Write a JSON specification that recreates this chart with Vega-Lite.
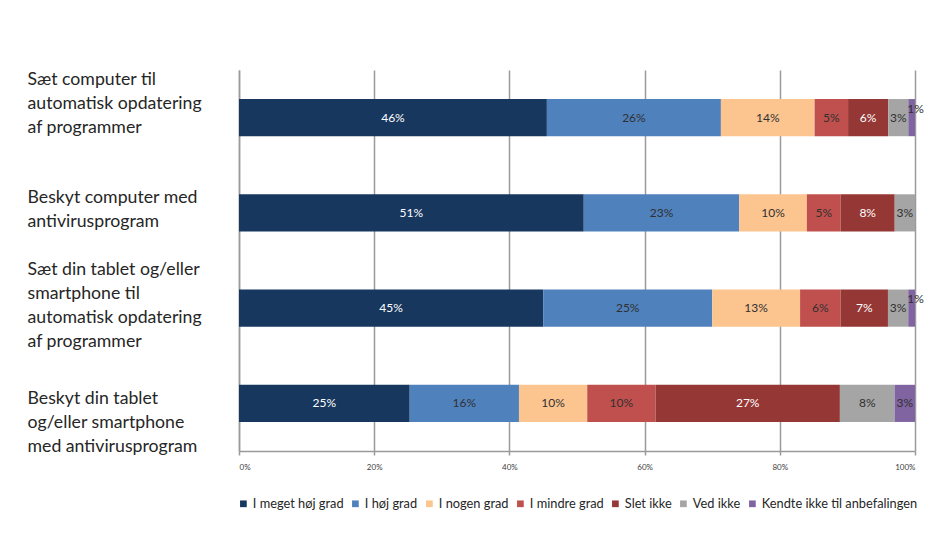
{
  "$schema": "https://vega.github.io/schema/vega-lite/v6.json",
  "autosize": "none",
  "width": 676,
  "height": 381,
  "padding": {"left": 239, "top": 70, "right": 19, "bottom": 99},
  "background": "white",
  "data": {
    "values": [
      {"item": "Sæt computer til|automatisk opdatering|af programmer", "svar": "I meget høj grad", "k": 1, "andel": 0.46},
      {"item": "Sæt computer til|automatisk opdatering|af programmer", "svar": "I høj grad", "k": 2, "andel": 0.26},
      {"item": "Sæt computer til|automatisk opdatering|af programmer", "svar": "I nogen grad", "k": 3, "andel": 0.14},
      {"item": "Sæt computer til|automatisk opdatering|af programmer", "svar": "I mindre grad", "k": 4, "andel": 0.05},
      {"item": "Sæt computer til|automatisk opdatering|af programmer", "svar": "Slet ikke", "k": 5, "andel": 0.06},
      {"item": "Sæt computer til|automatisk opdatering|af programmer", "svar": "Ved ikke", "k": 6, "andel": 0.03},
      {"item": "Sæt computer til|automatisk opdatering|af programmer", "svar": "Kendte ikke til anbefalingen", "k": 7, "andel": 0.01},
      {"item": "Beskyt computer med|antivirusprogram", "svar": "I meget høj grad", "k": 1, "andel": 0.51},
      {"item": "Beskyt computer med|antivirusprogram", "svar": "I høj grad", "k": 2, "andel": 0.23},
      {"item": "Beskyt computer med|antivirusprogram", "svar": "I nogen grad", "k": 3, "andel": 0.10},
      {"item": "Beskyt computer med|antivirusprogram", "svar": "I mindre grad", "k": 4, "andel": 0.05},
      {"item": "Beskyt computer med|antivirusprogram", "svar": "Slet ikke", "k": 5, "andel": 0.08},
      {"item": "Beskyt computer med|antivirusprogram", "svar": "Ved ikke", "k": 6, "andel": 0.03},
      {"item": "Sæt din tablet og/eller|smartphone til|automatisk opdatering|af programmer", "svar": "I meget høj grad", "k": 1, "andel": 0.45},
      {"item": "Sæt din tablet og/eller|smartphone til|automatisk opdatering|af programmer", "svar": "I høj grad", "k": 2, "andel": 0.25},
      {"item": "Sæt din tablet og/eller|smartphone til|automatisk opdatering|af programmer", "svar": "I nogen grad", "k": 3, "andel": 0.13},
      {"item": "Sæt din tablet og/eller|smartphone til|automatisk opdatering|af programmer", "svar": "I mindre grad", "k": 4, "andel": 0.06},
      {"item": "Sæt din tablet og/eller|smartphone til|automatisk opdatering|af programmer", "svar": "Slet ikke", "k": 5, "andel": 0.07},
      {"item": "Sæt din tablet og/eller|smartphone til|automatisk opdatering|af programmer", "svar": "Ved ikke", "k": 6, "andel": 0.03},
      {"item": "Sæt din tablet og/eller|smartphone til|automatisk opdatering|af programmer", "svar": "Kendte ikke til anbefalingen", "k": 7, "andel": 0.01},
      {"item": "Beskyt din tablet|og/eller smartphone|med antivirusprogram", "svar": "I meget høj grad", "k": 1, "andel": 0.25},
      {"item": "Beskyt din tablet|og/eller smartphone|med antivirusprogram", "svar": "I høj grad", "k": 2, "andel": 0.16},
      {"item": "Beskyt din tablet|og/eller smartphone|med antivirusprogram", "svar": "I nogen grad", "k": 3, "andel": 0.10},
      {"item": "Beskyt din tablet|og/eller smartphone|med antivirusprogram", "svar": "I mindre grad", "k": 4, "andel": 0.10},
      {"item": "Beskyt din tablet|og/eller smartphone|med antivirusprogram", "svar": "Slet ikke", "k": 5, "andel": 0.27},
      {"item": "Beskyt din tablet|og/eller smartphone|med antivirusprogram", "svar": "Ved ikke", "k": 6, "andel": 0.08},
      {"item": "Beskyt din tablet|og/eller smartphone|med antivirusprogram", "svar": "Kendte ikke til anbefalingen", "k": 7, "andel": 0.03}
    ]
  },
  "transform": [
    {"stack": "andel", "groupby": ["item"], "sort": [{"field": "k"}], "offset": "normalize", "as": ["x0", "x1"]},
    {"calculate": "(datum.x0 + datum.x1) / 2", "as": "xmid"}
  ],
  "encoding": {
    "y": {
      "field": "item",
      "type": "nominal",
      "sort": null,
      "title": null,
      "scale": {"paddingInner": 0.61, "paddingOuter": 0.305},
      "axis": {
        "labelExpr": "split(datum.label, '|')",
        "labelAlign": "left",
        "labelBaseline": "middle",
        "labelPadding": 212,
        "labelOffset": {
          "condition": [
            {"test": "datum.value === 'Sæt computer til|automatisk opdatering|af programmer'", "value": -38},
            {"test": "datum.value === 'Beskyt computer med|antivirusprogram'", "value": -14.5},
            {"test": "datum.value === 'Sæt din tablet og/eller|smartphone til|automatisk opdatering|af programmer'", "value": -38.5}
          ],
          "value": -4
        },
        "labelFont": "Lato",
        "labelFontSize": 17.7,
        "labelLineHeight": 24,
        "labelColor": "#262626",
        "labelLimit": 0,
        "ticks": false,
        "domainColor": "#9a9a9a",
        "domainWidth": 1.5
      }
    }
  },
  "layer": [
    {
      "mark": {"type": "bar"},
      "encoding": {
        "x": {
          "field": "x0",
          "type": "quantitative",
          "title": null,
          "scale": {"domain": [0, 1], "nice": false},
          "axis": {
            "values": [0, 0.2, 0.4, 0.6, 0.8, 1],
            "format": ".0%",
            "labelFont": "Lato",
            "labelFontSize": 8,
            "labelColor": "#404040",
            "labelPadding": 8,
            "tickSize": 4,
            "tickColor": "#9a9a9a",
            "tickWidth": 1.5,
            "domainColor": "#9a9a9a",
            "domainWidth": 1.5,
            "grid": true,
            "gridColor": "#9a9a9a",
            "gridWidth": 1.5
          }
        },
        "x2": {"field": "x1"},
        "color": {
          "field": "svar",
          "type": "nominal",
          "title": null,
          "scale": {
            "domain": ["I meget høj grad", "I høj grad", "I nogen grad", "I mindre grad", "Slet ikke", "Ved ikke", "Kendte ikke til anbefalingen"],
            "range": ["#17375e", "#4f81bd", "#fcc590", "#c0504d", "#953735", "#a5a5a5", "#8064a2"]
          },
          "legend": {
            "orient": "none",
            "legendX": -2,
            "legendY": 427,
            "direction": "horizontal",
            "columns": 7,
            "symbolType": "square",
            "symbolSize": 45,
            "symbolStrokeWidth": 0,
            "labelFont": "Lato",
            "labelFontSize": 12.8,
            "labelColor": "#262626",
            "labelOffset": 3,
            "columnPadding": 5,
            "labelLimit": 0
          }
        }
      }
    },
    {
      "transform": [{"filter": "datum.andel > 0.01"}],
      "mark": {"type": "text", "font": "Lato", "fontSize": 12, "baseline": "middle", "align": "center"},
      "encoding": {
        "x": {"field": "xmid", "type": "quantitative"},
        "text": {"field": "andel", "type": "quantitative", "format": ".0%"},
        "color": {"condition": {"test": "datum.k == 1 || datum.k == 5", "value": "#ffffff"}, "value": "#303030"}
      }
    },
    {
      "transform": [{"filter": "datum.andel <= 0.01"}],
      "mark": {"type": "text", "font": "Lato", "fontSize": 12, "baseline": "middle", "align": "center", "dx": 4, "dy": -9, "color": "#303030"},
      "encoding": {
        "x": {"field": "xmid", "type": "quantitative"},
        "text": {"field": "andel", "type": "quantitative", "format": ".0%"}
      }
    }
  ],
  "config": {
    "view": {"stroke": null}
  }
}
